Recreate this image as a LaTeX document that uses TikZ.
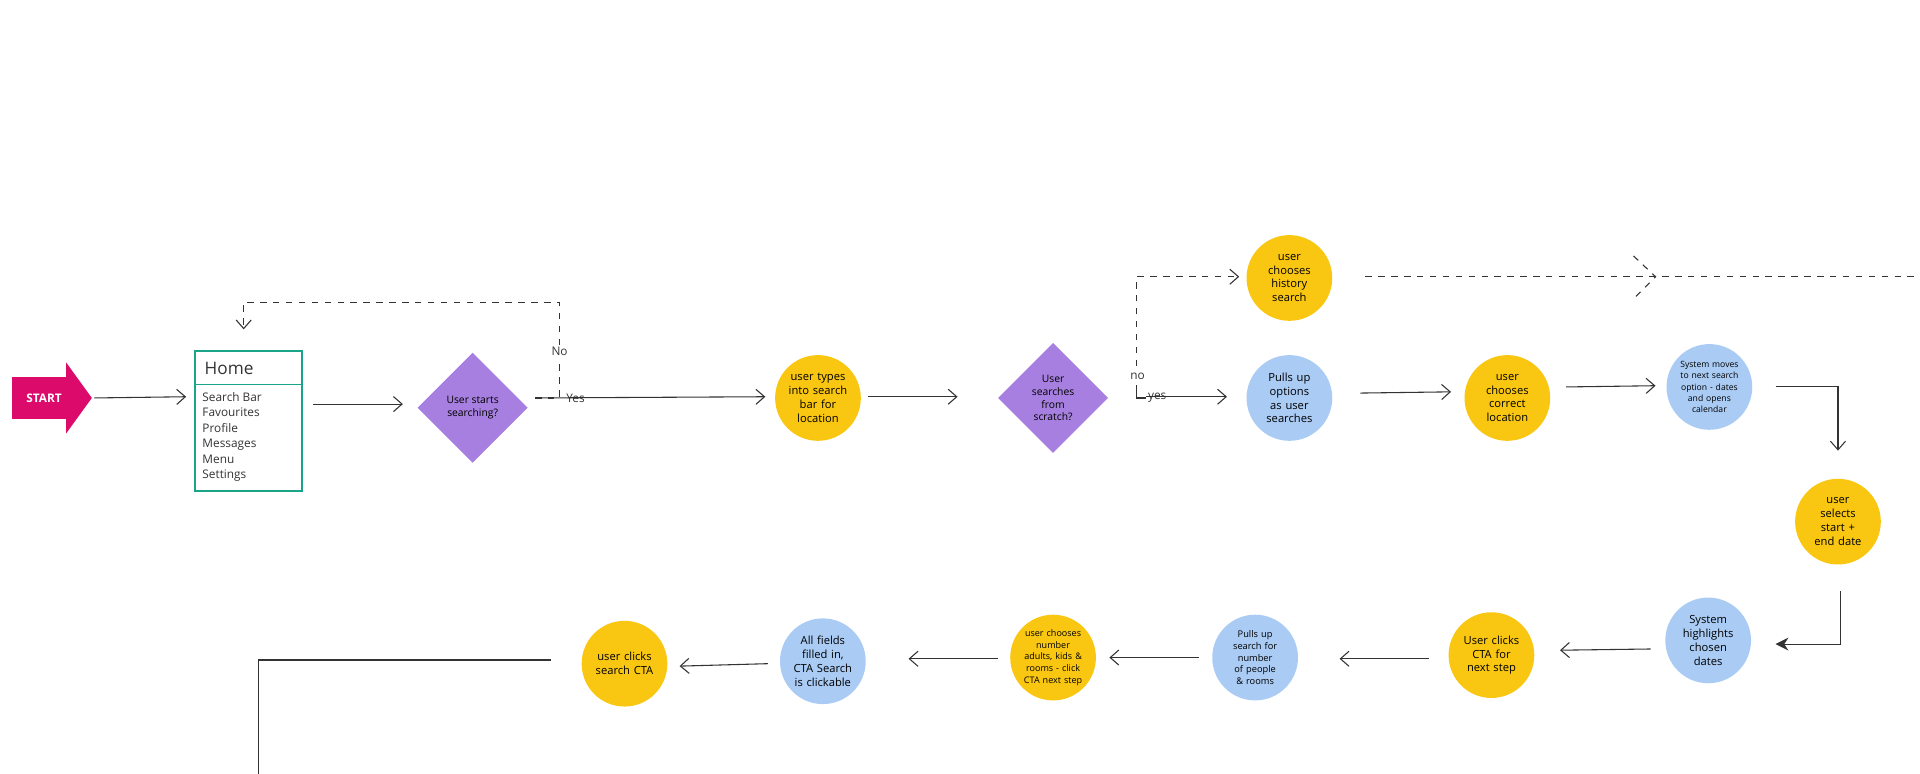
\documentclass[tikz,border=0pt]{standalone}
\usepackage{fontspec}
\setmainfont{Open Sans}
\usetikzlibrary{arrows.meta,calc}
\definecolor{yel}{HTML}{F9C712}
\definecolor{blu}{HTML}{A9CBF4}
\definecolor{pur}{HTML}{A77FE0}
\definecolor{mag}{HTML}{DC0A6A}
\definecolor{tea}{HTML}{1AA58A}
\definecolor{ln}{HTML}{333333}
\begin{document}
\begin{tikzpicture}[x=0.02cm,y=-0.02cm,
 circ/.style={circle,minimum size=70*0.02cm,inner sep=0pt,align=center,text width=50*0.02cm,font=\fontsize{5.2}{6.4}\selectfont},
 ycirc/.style={circ,fill=yel},
 bcirc/.style={circ,fill=blu},
 dia/.style={diamond,aspect=1,fill=pur,minimum size=90*0.02cm,inner sep=0pt,align=center,font=\fontsize{4.8}{6}\selectfont},
 ar/.style={draw=ln,line width=0.5pt,-{Straight Barb[length=4pt,width=7pt]}},
 lab/.style={font=\fontsize{5.5}{6}\selectfont,text=ln,inner sep=1pt}]
\useasboundingbox (0,0) rectangle (1568,632);
\usetikzlibrary{shapes.geometric}
% start
\fill[mag] (10,308)--(54,308)--(54,296)--(75,325)--(54,354)--(54,342)--(10,342)--cycle;
\node[text=white,font=\bfseries\fontsize{5.5}{6}\selectfont] (start) at (36,325) {START};
% home
\draw[tea,line width=0.9pt] (159,287) rectangle (247,401);
\draw[tea,line width=0.9pt] (159,314)--(247,314);
\node[anchor=west,font=\fontsize{8}{9}\selectfont,text=ln] (homet) at (161,301) {Home};
\node[anchor=north west,align=left,font=\fontsize{5.5}{7.2}\selectfont,text=ln,inner sep=0pt] (homel) at (165,320) {Search Bar\\Favourites\\Profile\\Messages\\Menu\\Settings};
\coordinate (homeW) at (152,324);
\coordinate (homeE) at (256,330);
\node[dia] (d1) at (386,333) {User starts\\searching?};
\node[ycirc] (c1) at (668,325) {user types into search bar for location};
\node[dia] (d2) at (860,325) {User\\searches\\from\\scratch?};
\node[ycirc] (hist) at (1053,227) {user chooses history search};
\node[bcirc] (pull) at (1053,325) {Pulls up options as user searches};
\node[ycirc] (corr) at (1231,325) {user chooses correct location};
\node[bcirc,font=\fontsize{4}{5.2}\selectfont] (sysm) at (1396,316) {System moves to next search option - dates and opens calendar};
\node[ycirc] (sel) at (1501,426) {user selects start + end date};
\node[bcirc] (high) at (1395,523) {System highlights chosen dates};
\node[ycirc] (cta) at (1218,535) {User clicks CTA for next step};
\node[bcirc,font=\fontsize{4.3}{5.5}\selectfont] (pps) at (1025,537) {Pulls up search for number of people \& rooms};
\node[ycirc,font=\fontsize{4.2}{5.4}\selectfont] (num) at (860,537) {user chooses number adults, kids \& rooms - click CTA next step};
\node[bcirc] (all) at (672,540) {All fields filled in, CTA Search is clickable};
\node[ycirc] (srch) at (510,542) {user clicks search CTA};
% connectors
\draw[ar] (77,325) -- (homeW);
\draw[ar] (homeE) -- (329,330);
\draw[ar] (437,325) -- (625,324);
\node[lab] at (470,325) {Yes};
\draw[ar,dashed] (437,325) -- (457,325) -- (457,247) -- (199,247) -- (199,269);
\node[lab,fill=white] at (457,287) {No};
\draw[ar] (709,324) -- (782,324);
\draw[ar,dashed] (928,320) |- (1012,226);
\node[lab,fill=white] at (929,307) {no};
\draw[draw=ln,line width=0.5pt] (928,318) -- (928,325) -- (936,325);
\draw[ar] (936,324) -- (1002,324);
\node[lab] at (945,325) {yes};
\draw[draw=ln,line width=0.5pt,dashed] (1115,226) -- (1568,226);
\draw[draw=ln,line width=0.5pt,dashed] (1334,209) -- (1352,226) -- (1334,244);
\draw[ar] (1111,321) -- (1185,320);
\draw[ar] (1279,316) -- (1352,315);
\draw[ar] (1450,316) -| (1501,368);
\draw[draw=ln,line width=0.5pt,-{Stealth[length=6pt,width=6pt]}] (1503,483) |- (1450,526);
\draw[ar] (1348,530) -- (1274,531);
\draw[ar] (1167,538) -- (1094,538);
\draw[ar] (979,537) -- (906,537);
\draw[ar] (815,538) -- (742,538);
\draw[ar] (627,542) -- (555,544);
\draw[draw=ln,line width=0.5pt] (450,539) -- (211,539) -- (211,632);
\end{tikzpicture}
\end{document}
